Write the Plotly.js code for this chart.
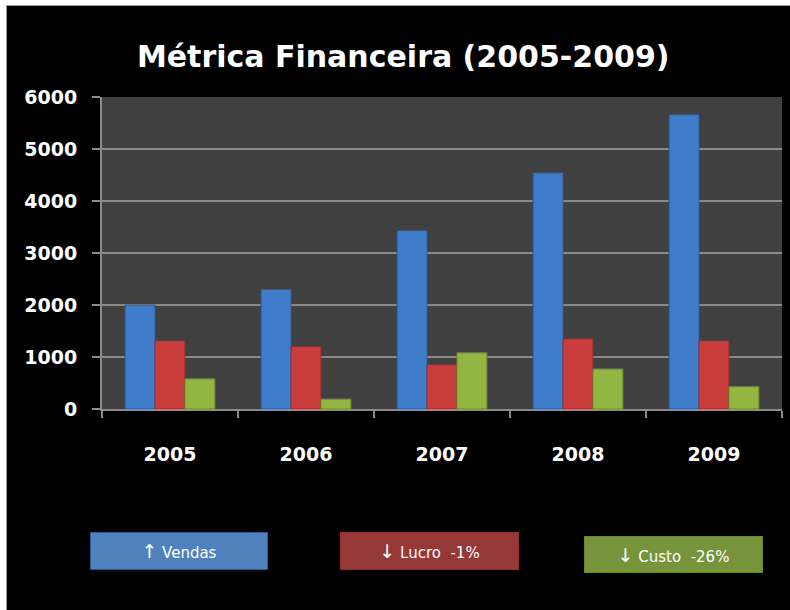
<!DOCTYPE html>
<html>
<head>
<meta charset="utf-8">
<script src="https://cdn.plot.ly/plotly-3.0.1.min.js"></script>
<style>
html,body{margin:0;padding:0;background:#ffffff;width:790px;height:610px;overflow:hidden;}
#chart{position:absolute;left:6px;top:5px;width:784px;height:605px;border-left:1px solid #9a9a9a;border-top:1px solid #9a9a9a;}
</style>
</head>
<body>
<div id="chart"></div>
<script>
const years = ['2005','2006','2007','2008','2009'];
const vendas = [2000, 2300, 3430, 4540, 5660];
const lucro = [1310, 1200, 850, 1350, 1310];
const custo = [580, 190, 1080, 770, 430];
const seriesNames = ['Vendas','Lucro','Custo'];
const legendArrows = ['↑', '↓', '↓'];
const legendLabels = ['Vendas', 'Lucro  -1%', 'Custo  -26%'];
const yTicks = [0,1000,2000,3000,4000,5000,6000];

const font = "'DejaVu Sans', 'Noto Sans', sans-serif";
const barColors = ['#3f7dca', '#c93d3c', '#92b641'];
const lineColors = ['#2c5a96', '#962c2b', '#6a8a2c'];
const boxColors = ['#4f81bd', '#953838', '#77933c'];

const traces = [vendas, lucro, custo].map((vals, i) => ({
  type: 'bar', x: years, y: vals, name: seriesNames[i],
  marker: {color: barColors[i], line: {color: lineColors[i], width: 1}},
  hoverinfo: 'skip'
}));

const W = 783, H = 604;
const ml = 95, mt = 91, pw = 680, ph = 312;
const mr = W - ml - pw, mb = H - mt - ph;

function px2x(p){ return (p - 7 - ml) / pw; }
function py2y(p){ return (mt + ph - (p - 6)) / ph; }

const boxes = [
  {cx: 179, cy: 551, w: 176, h: 36},
  {cx: 429.5, cy: 551, w: 177, h: 36},
  {cx: 673.5, cy: 554, w: 177, h: 35}
];
const annotations = boxes.map((b, i) => ({
  xref: 'paper', yref: 'paper', x: px2x(b.cx), y: py2y(b.cy),
  xanchor: 'center', yanchor: 'middle', showarrow: false,
  text: '<span style="font-size:19px">' + legendArrows[i] + '</span> ' + legendLabels[i],
  width: b.w, height: b.h, borderpad: 0,
  bgcolor: boxColors[i], bordercolor: lineColors[i], borderwidth: 1,
  font: {family: font, size: 15, color: '#ffffff'}
}));

const layout = {
  width: W, height: H,
  margin: {l: ml, r: mr, t: mt, b: mb, pad: 0},
  paper_bgcolor: '#000000', plot_bgcolor: '#404040',
  showlegend: false,
  barmode: 'group', bargap: 0.34, bargroupgap: 0,
  title: {
    text: '<b>Métrica Financeira (2005-2009)</b>',
    font: {family: font, size: 30, color: '#ffffff'},
    x: 0.506, xref: 'container', xanchor: 'center',
    y: 1 - 50 / H, yref: 'container', yanchor: 'middle'
  },
  xaxis: {
    type: 'category', tickmode: 'array', tickvals: years, ticktext: years,
    showgrid: false, showline: true, linecolor: '#8c8c8c', linewidth: 2,
    ticks: 'outside', tickson: 'boundaries', ticklen: 7, tickcolor: '#8c8c8c', tickwidth: 2,
    ticklabelstandoff: 27,
    tickfont: {family: font, size: 19, weight: 'bold', color: '#ffffff'}
  },
  yaxis: {
    range: [0, 6000], tickmode: 'array', tickvals: yTicks, ticktext: yTicks.map(String),
    showgrid: true, gridcolor: '#8a8a8a', gridwidth: 2,
    showline: true, linecolor: '#8c8c8c', linewidth: 2,
    ticks: 'outside', ticklen: 8, tickcolor: '#8c8c8c', tickwidth: 2,
    ticklabelstandoff: 11, zeroline: false,
    tickfont: {family: font, size: 19, weight: 'bold', color: '#ffffff'}
  },
  annotations: annotations
};

Plotly.newPlot('chart', traces, layout, {displayModeBar: false, staticPlot: true});
</script>
</body>
</html>
